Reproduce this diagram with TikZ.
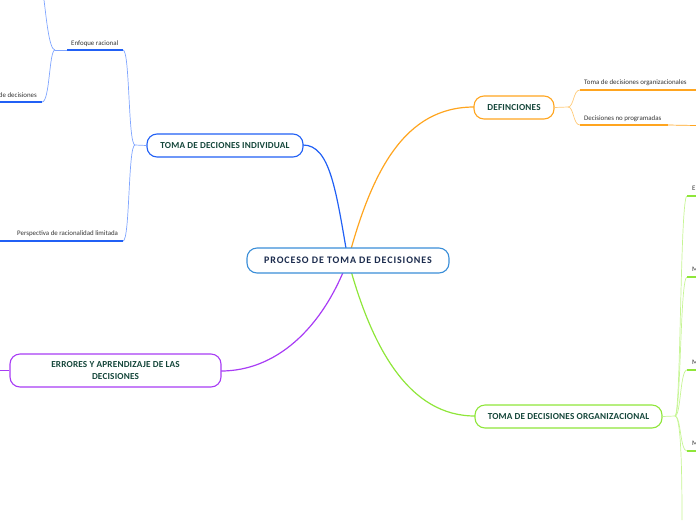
\documentclass[tikz,border=0pt]{standalone}
\usepackage{fontspec}
\setmainfont{Carlito}[BoldFont={Carlito Bold}]
\newfontfamily\spacedfont{Carlito}[BoldFont={Carlito Bold},LetterSpace=9]
\newfontfamily\boxfont{Carlito}[BoldFont={Carlito Bold},LetterSpace=2]
\definecolor{cblue}{HTML}{2160F5}
\definecolor{lblue}{HTML}{7FA5FF}
\definecolor{corange}{HTML}{FFA51F}
\definecolor{lorange}{HTML}{FFCB7A}
\definecolor{cgreen}{HTML}{8FE63A}
\definecolor{lgreen}{HTML}{C6F594}
\definecolor{cpurple}{HTML}{A83CF5}
\definecolor{cmain}{HTML}{3A8ED8}
\definecolor{tgreen}{HTML}{14463A}
\definecolor{tnavy}{HTML}{1B2B4D}
\definecolor{tgray}{HTML}{333333}
\tikzset{
  mainbox/.style={draw, line width=1.1pt, rounded corners=10pt, fill=white, align=center, font=\boxfont\fontsize{9.2}{12}\selectfont\bfseries, text=tgreen, inner sep=0pt},
  leaf/.style={font=\fontsize{6.9}{8}\selectfont, text=tgray, inner sep=0pt, anchor=base west},
  conn/.style={line width=1.2pt},
  sub/.style={line width=0.7pt},
  uline/.style={line width=1.5pt}
}
\begin{document}
\begin{tikzpicture}[x=1pt,y=-1pt]
\useasboundingbox (0,0) rectangle (696,520);
\coordinate (cc) at (348,260);
% main connectors
\draw[conn, cblue] (cc) .. controls (336,190) and (330,145) .. (303,145);
\draw[conn, corange] (cc) .. controls (372,170) and (405,107) .. (474,107);
\draw[conn, cgreen] (cc) .. controls (372,350) and (410,416) .. (475,416);
\draw[conn, cpurple] (cc) .. controls (322,330) and (275,371) .. (221,371);
% central
\node[mainbox, draw=cmain, minimum width=202pt, minimum height=25pt, text=tnavy, font=\spacedfont\fontsize{10}{12}\selectfont\bfseries] (central) at (348,260.5) {PROCESO DE TOMA DE DECISIONES};
% individual
\node[mainbox, draw=cblue, minimum width=156pt, minimum height=23pt] (ind) at (225,145.5) {TOMA DE DECIONES INDIVIDUAL};
\coordinate (ib) at (135,145);
\coordinate (e1) at (55,50);
\coordinate (e2) at (123,50);
\coordinate (p1) at (0,241);
\coordinate (p2) at (123,241);
\coordinate (d1) at (0,102);
\coordinate (d2) at (42,102);
\coordinate (up) at (44,0);
\draw[sub, lblue] (ind.west) -- (ib);
\draw[sub, lblue] (ib) .. controls (128,145) and (130,50) .. (e2);
\draw[sub, lblue] (ib) .. controls (128,145) and (130,241) .. (p2);
\draw[sub, lblue] (e1) .. controls (49,50) and (50,102) .. (d2);
\draw[sub, lblue] (e1) .. controls (49,50) and (46,15) .. (up);
\draw[sub, lblue] (e1) -- (67,50);
\draw[uline, cblue] (67,50) -- (e2);
\draw[uline, cblue] (p1) -- (p2);
\draw[uline, cblue] (d1) -- (d2);
\node[leaf] (ten) at (71,45) {Enfoque racional};
\node[leaf, anchor=base east] (tde) at (37,97.5) {de decisiones};
\node[leaf] (tper) at (17,235.5) {Perspectiva de racionalidad limitada};
% definiciones
\node[mainbox, draw=corange, minimum width=80pt, minimum height=23pt] (def) at (514,107.5) {DEFINCIONES};
\coordinate (dj) at (568,107);
\coordinate (o1) at (580,90);
\coordinate (o2) at (580,125);
\draw[sub, lorange] (def.east) -- (dj);
\draw[sub, lorange] (dj) .. controls (574,107) and (573,90) .. (o1);
\draw[sub, lorange] (dj) .. controls (574,107) and (573,125) .. (o2);
\draw[uline, corange] (o1) -- (696,90);
\draw[uline, corange] (o2) -- (668,125);
\draw[sub, corange] (668,125) -- (696,125.5);
\node[leaf] (tto) at (584,84.5) {Toma de decisiones organizacionales};
\node[leaf] (tdn) at (584,120) {Decisiones no programadas};
% organizacional
\node[mainbox, draw=cgreen, minimum width=187pt, minimum height=23pt] (org) at (568.5,416.5) {TOMA DE DECISIONES ORGANIZACIONAL};
\coordinate (gj) at (675,416);
\coordinate (g1) at (687,196);
\coordinate (g2) at (687,277);
\coordinate (g3) at (687,370);
\coordinate (g4) at (687,451);
\coordinate (g5) at (682,520);
\draw[sub, lgreen] (org.east) -- (gj);
\draw[sub, lgreen] (gj) .. controls (681,416) and (680,196) .. (g1);
\draw[sub, lgreen] (gj) .. controls (681,416) and (680,277) .. (g2);
\draw[sub, lgreen] (gj) .. controls (681,416) and (680,370) .. (g3);
\draw[sub, lgreen] (gj) .. controls (681,416) and (680,451) .. (g4);
\draw[sub, lgreen] (gj) .. controls (681,416) and (682,470) .. (g5);
\draw[uline, cgreen] (g1) -- ++(12,0);
\draw[uline, cgreen] (g2) -- ++(12,0);
\draw[uline, cgreen] (g3) -- ++(12,0);
\draw[uline, cgreen] (g4) -- ++(12,0);
\node[leaf] (t1) at (692,190.5) {E};
\node[leaf] (t2) at (692,271.5) {M};
\node[leaf] (t3) at (692,364.5) {M};
\node[leaf] (t4) at (692,445.5) {M};
% errores
\node[mainbox, draw=cpurple, minimum width=211pt, minimum height=33pt] (err) at (115.5,370.5) {ERRORES Y APRENDIZAJE DE LAS\\DECISIONES};
\draw[conn, cpurple] (err.west) -- (0,370.5);
\end{tikzpicture}
\end{document}
